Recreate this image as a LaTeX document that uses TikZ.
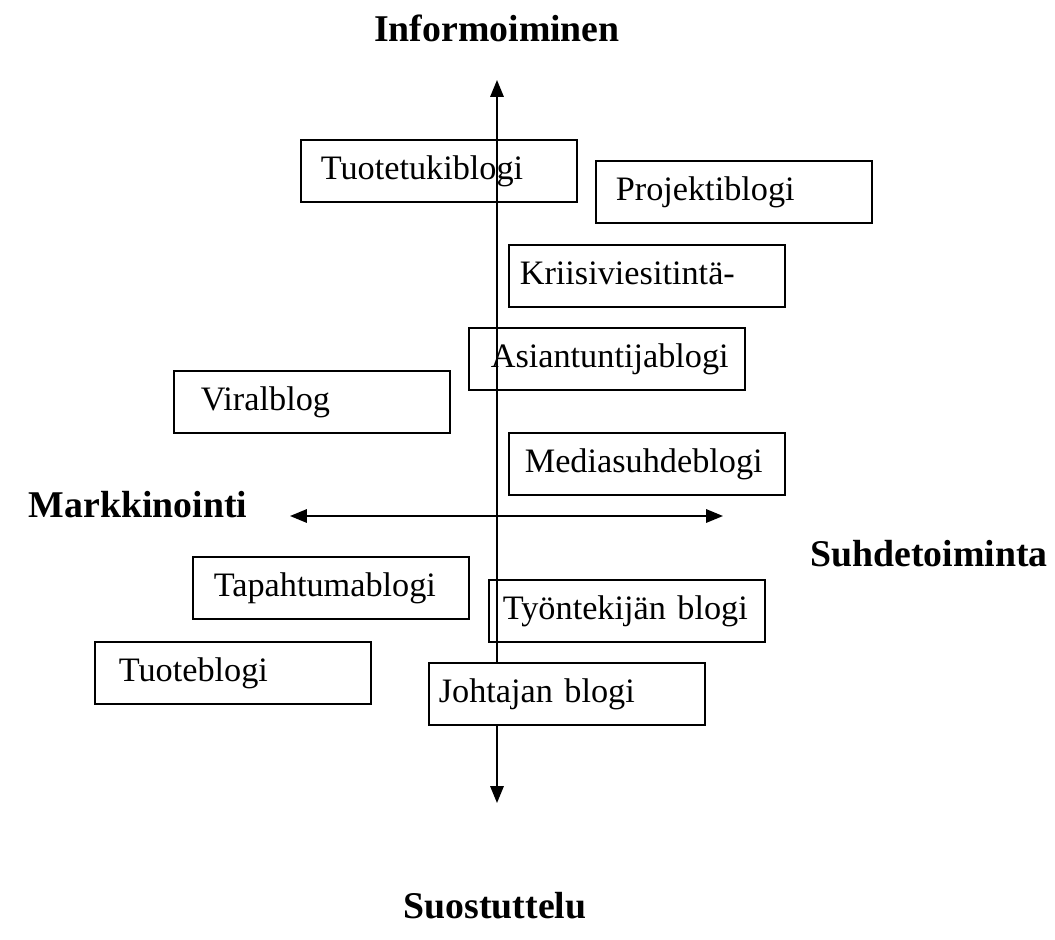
\documentclass[tikz,border=0pt]{standalone}
\usepackage{fontspec}
\setmainfont{Liberation Serif}
\usetikzlibrary{arrows.meta}

\begin{document}
\begin{tikzpicture}[x=0.02cm, y=-0.02cm,
          blog/.style={draw, line width=0.9pt, anchor=west, minimum width=5.52cm, minimum height=1.24cm,
                       inner ysep=0pt, inner xsep=#1, text width={5.52cm-2*#1}, text height=0.48cm, text depth=0.16cm,
                       align=left, font=\fontsize{19.5}{23}\selectfont},
          blog/.default=0.4cm,
          pole/.style={font=\fontsize{21.5}{25}\selectfont\bfseries, inner sep=0pt},
          axis/.style={{Triangle[length=0.34cm, width=0.27cm]}-{Triangle[length=0.34cm, width=0.27cm]}, line width=1pt}]
        \useasboundingbox (0,0) rectangle (1055,940);
        % axes
        \coordinate (itop) at (497,80);
        \coordinate (ibot) at (497,803);
        \coordinate (mleft) at (290,516);
        \coordinate (sright) at (723,516);
        \draw[axis] (ibot) -- (itop);
        \draw[axis] (mleft) -- (sright);
        \node[pole] (info)  at (497,28)  {Informoiminen};
        \node[pole] (markk) at (138,505) {Markkinointi};
        \node[pole] (suhde) at (929,554) {Suhdetoiminta};
        \node[pole] (suost) at (495,906) {Suostuttelu};
        % blogs
        \node[blog]         (tuotetuki)  at (300,171) {Tuotetukiblogi};
        \node[blog]         (projekti)   at (595,192) {Projektiblogi};
        \node[blog=0.22cm]  (kriisi)     at (508,276) {Kriisiviesitintä-};
        \node[blog=0.44cm]  (asiantunt)  at (468,359) {Asiantuntijablogi};
        \node[blog=0.54cm]  (viral)      at (173,402) {Viralblog};
        \node[blog=0.32cm]  (media)      at (508,464) {Mediasuhdeblogi};
        \node[blog=0.42cm]  (tapahtuma)  at (192,588) {Tapahtumablogi};
        \node[blog=0.28cm]  (tyontekija) at (488,611) {Työntekijän blogi};
        \node[blog=0.48cm]  (tuote)      at (94,673)  {Tuoteblogi};
        \node[blog=0.2cm, fill=white] (johtaja) at (428,694) {Johtajan blogi};
      \end{tikzpicture}
\end{document}
